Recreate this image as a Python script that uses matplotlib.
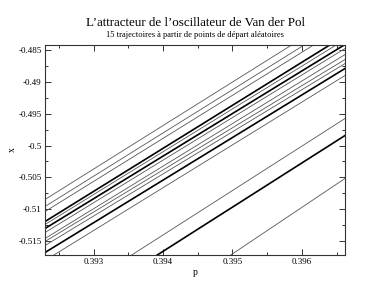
import numpy as np
import matplotlib
matplotlib.use('Agg')
import matplotlib.pyplot as plt
from matplotlib.ticker import MultipleLocator, FormatStrFormatter

# bornes de la fenetre en p
p_gauche = 0.3923
p_droite = 0.39662

# valeur de x de chaque passage de trajectoire aux deux bords
x_gauche = [-0.50848, -0.50958, -0.51037, -0.51194, -0.51241, -0.51304,
            -0.51367, -0.51461, -0.51508, -0.51571, -0.51681, -0.51806,
            -0.52592, -0.52843, -0.53676]
x_droite = [-0.47895, -0.48021, -0.48115, -0.48272, -0.48335, -0.48413,
            -0.48476, -0.48571, -0.48649, -0.48712, -0.48790, -0.48900,
            -0.49576, -0.49843, -0.50518]
# passages ou plusieurs trajectoires se superposent
epais = [False, False, False, True, False, True,
         False, False, False, False, True, False,
         False, True, False]

plt.rcParams['font.family'] = ['Liberation Serif', 'DejaVu Serif']

fig = plt.figure(figsize=(3.88, 3.0), dpi=100)
ax = fig.add_axes([0.116, 0.15, 0.773, 0.70])

for xg, xd, e in zip(x_gauche, x_droite, epais):
    if e:
        ax.plot([p_gauche, p_droite], [xg, xd], color='black', lw=1.2)
    else:
        ax.plot([p_gauche, p_droite], [xg, xd], color='#555555', lw=0.6)

ax.set_xlim(0.3923, 0.39662)
ax.set_ylim(-0.5172, -0.4842)

ax.xaxis.set_major_locator(MultipleLocator(0.001))
ax.xaxis.set_minor_locator(MultipleLocator(0.0005))
ax.yaxis.set_major_locator(MultipleLocator(0.005))
ax.yaxis.set_minor_locator(MultipleLocator(0.0025))
ax.xaxis.set_major_formatter(FormatStrFormatter('%g'))
ax.yaxis.set_major_formatter(FormatStrFormatter('%g'))

ax.tick_params(which='both', direction='in', top=True, right=True,
               labelsize=6.5, color='#333333', width=0.7, pad=2.5)
ax.tick_params(which='major', length=4)
ax.tick_params(which='minor', length=2)
for s in ax.spines.values():
    s.set_color('#333333')
    s.set_linewidth(0.8)

ax.set_xlabel('p', fontsize=7, labelpad=1)
ax.set_ylabel('x', fontsize=7)
ax.yaxis.set_label_coords(-0.093, 0.5)

fig.text(0.5026, 0.925, 'L’attracteur de l’oscillateur de Van der Pol',
         ha='center', va='center', fontsize=9.4)
fig.text(0.5026, 0.884, '15 trajectoires à partir de points de départ aléatoires',
         ha='center', va='center', fontsize=6.1)

fig.savefig('out.png', dpi=100)
